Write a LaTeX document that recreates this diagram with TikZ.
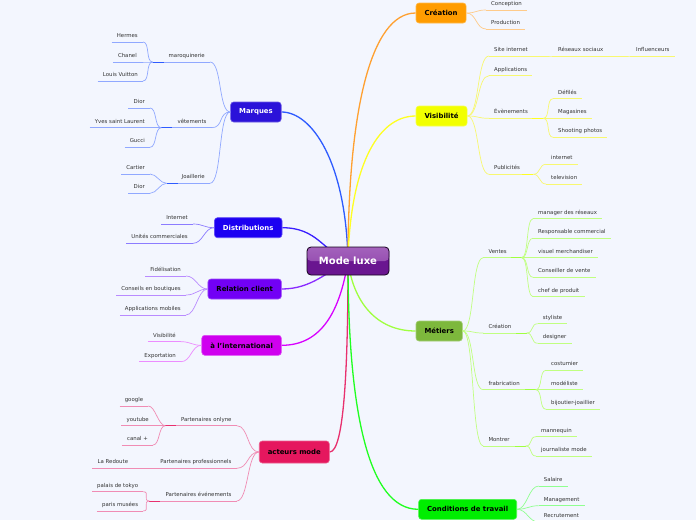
\documentclass[tikz,border=0pt]{standalone}
\usepackage{fontspec}
\setmainfont{DejaVu Sans}
\usetikzlibrary{backgrounds}

\definecolor{bg}{HTML}{F3F6FE}
\definecolor{txt}{HTML}{333333}
% topic boxes
\definecolor{cMarq}{HTML}{2B12D9}
\definecolor{cDist}{HTML}{1C00F2}
\definecolor{cRel}{HTML}{7200F5}
\definecolor{cIntl}{HTML}{CF00EF}
\definecolor{cAct}{HTML}{E5175E}
\definecolor{cCrea}{HTML}{FF9C00}
\definecolor{cVis}{HTML}{F2FF00}
\definecolor{cMet}{HTML}{7DB83C}
\definecolor{cCond}{HTML}{00EE00}
% main edges
\definecolor{eMarq}{HTML}{2E5BFF}
\definecolor{eDist}{HTML}{3A1FFF}
\definecolor{eRel}{HTML}{8A2BFF}
\definecolor{eIntl}{HTML}{D800FF}
\definecolor{eAct}{HTML}{E8306E}
\definecolor{eCrea}{HTML}{FFA030}
\definecolor{eVis}{HTML}{FFFF22}
\definecolor{eMet}{HTML}{A0FF40}
\definecolor{eCond}{HTML}{20FF20}
% sub lines
\definecolor{mqL}{HTML}{90A8FF}
\definecolor{diL}{HTML}{8C7CFF}
\definecolor{rcL}{HTML}{B98BFF}
\definecolor{inL}{HTML}{EC8CFF}
\definecolor{acL}{HTML}{F08CB4}
\definecolor{crL}{HTML}{FFCB8A}
\definecolor{viL}{HTML}{F8F870}
\definecolor{meL}{HTML}{C0FF80}
\definecolor{coL}{HTML}{90FF90}
% center
\definecolor{pDark}{HTML}{6A1690}
\definecolor{pTop}{HTML}{A462BC}
\definecolor{pMid}{HTML}{8A3FA8}

\tikzset{
  topic/.style={rectangle, rounded corners=3pt, fill=#1, draw=#1!70!white,
    line width=.6pt, minimum height=20pt, inner xsep=8.5pt,
    font=\bfseries\fontsize{6.9}{8}\selectfont},
  hub/.style={rectangle, rounded corners=4pt, fill=pDark, draw=black!80!pDark,
    line width=.8pt, minimum width=82pt, minimum height=28pt, text=white,
    font=\bfseries\fontsize{10}{12}\selectfont,
    path picture={\fill[top color=pTop, bottom color=pMid]
      (path picture bounding box.north west) rectangle (path picture bounding box.east);}},
  sub/.style={inner xsep=5pt, inner ysep=3pt, text height=4.2pt, text depth=1.2pt,
    text=txt, font=\fontsize{5.4}{6.5}\selectfont,
    append after command={(\tikzlastnode.south west) edge[draw=#1, line width=.7pt] (\tikzlastnode.south east)}},
  lsub/.style={anchor=south east, align=right, sub=#1},
  rsub/.style={anchor=south west, align=left, sub=#1},
  % stronger bit of line where the children join
  jl/.style={append after command={(\tikzlastnode.south west) edge[draw=#1, line width=.9pt] ([xshift=11pt]\tikzlastnode.south west)}},
  jr/.style={append after command={(\tikzlastnode.south east) edge[draw=#1, line width=.9pt] ([xshift=-11pt]\tikzlastnode.south east)}},
  link/.style={draw=#1, line width=.7pt},
  medge/.style={draw=#1, line width=1.3pt},
  hcurve/.style={to path={.. controls +(#1,0) and +(-#1,0) .. (\tikztotarget) \tikztonodes}},
}

\begin{document}
\begin{tikzpicture}[x=1pt, y=-1pt]
\begin{scope}[on background layer]
\fill[bg] (0,0) rectangle (696,520);
\end{scope}
\useasboundingbox (0,0) rectangle (696,520);

% centre and topics
\node[hub] (cent) at (348,261) {Mode luxe};
\node[topic=cMarq, text=white, anchor=east] (marq) at (281.5,112) {Marques};
\node[topic=cDist, text=white, anchor=east] (dist) at (282.3,227.7) {Distributions};
\node[topic=cRel, anchor=east] (rel) at (281.7,289) {Relation client};
\node[topic=cIntl, anchor=east] (intl) at (281.7,345.3) {à l'international};
\node[topic=cAct, minimum height=22pt] (act) at (294.3,452) {acteurs mode};
\node[topic=cCrea, anchor=west] (crea) at (415.7,13) {Création};
\node[topic=cVis, anchor=west] (vis) at (415.7,116) {Visibilité};
\node[topic=cMet, anchor=west] (met) at (415.7,331) {Métiers};
\node[topic=cCond, anchor=west] (cond) at (418.3,509.3) {Conditions de travail};

\begin{scope}[on background layer]
\draw[medge=eMarq] (marq.east) .. controls +(30,0) and +(-2,-100) .. (cent.center);
\draw[medge=eDist] (dist.east) .. controls +(35,0) and +(-25,-10) .. (cent.center);
\draw[medge=eRel] (rel.east) .. controls +(30,0) and +(-20,10) .. (cent.center);
\draw[medge=eIntl] (intl.east) .. controls +(40,0) and +(-8,50) .. (cent.center);
\draw[medge=eAct] (act.east) .. controls +(15,0) and +(0,100) .. (cent.center);
\draw[medge=eCrea] (crea.west) .. controls +(-45,0) and +(0,-150) .. (cent.center);
\draw[medge=eVis] (vis.west) .. controls +(-40,0) and +(2,-90) .. (cent.center);
\draw[medge=eMet] (met.west) .. controls +(-40,0) and +(5,40) .. (cent.center);
\draw[medge=eCond] (cond.west) .. controls +(-50,0) and +(0,150) .. (cent.center);
\end{scope}

% Marques
\node[lsub=mqL, jl=eMarq, text width=47pt] (maroq) at (210,62) {maroquinerie};
\node[lsub=mqL] (hermes) at (143,42) {Hermes};
\node[lsub=mqL] (chanel) at (142,62) {Chanel};
\node[lsub=mqL] (lv) at (143,81) {Louis Vuitton};
\node[lsub=mqL, jl=eMarq, text width=40pt] (vet) at (211.7,127.7) {vêtements};
\node[lsub=mqL] (dior) at (150,108) {Dior};
\node[lsub=mqL] (ysl) at (150,127.7) {Yves saint Laurent};
\node[lsub=mqL] (gucci) at (150,147.3) {Gucci};
\node[lsub=mqL, jl=eMarq, text width=33pt] (joa) at (210,183.3) {Joaillerie};
\node[lsub=mqL] (cartier) at (150,174) {Cartier};
\node[lsub=mqL] (dior2) at (150,193.3) {Dior};
\draw[link=mqL, hcurve=-12] (marq.west) to (maroq.south east);
\draw[link=mqL, hcurve=-12] (marq.west) to (vet.south east);
\draw[link=mqL, hcurve=-12] (marq.west) to (joa.south east);
\draw[link=mqL, hcurve=-7] (maroq.south west) to (hermes.south east);
\draw[link=mqL, hcurve=-7] (maroq.south west) to (chanel.south east);
\draw[link=mqL, hcurve=-7] (maroq.south west) to (lv.south east);
\draw[link=mqL, hcurve=-7] (vet.south west) to (dior.south east);
\draw[link=mqL, hcurve=-7] (vet.south west) to (ysl.south east);
\draw[link=mqL, hcurve=-7] (vet.south west) to (gucci.south east);
\draw[link=mqL, hcurve=-7] (joa.south west) to (cartier.south east);
\draw[link=mqL, hcurve=-7] (joa.south west) to (dior2.south east);

% Distributions
\node[lsub=diL] (inet) at (193,224) {Internet};
\node[lsub=diL] (unites) at (193,243.3) {Unités commerciales};
\draw[link=diL, hcurve=-10] (dist.west) to (inet.south east);
\draw[link=diL, hcurve=-10] (dist.west) to (unites.south east);

% Relation client
\node[lsub=rcL] (fidel) at (186,276) {Fidélisation};
\node[lsub=rcL] (conseil) at (186,295) {Conseils en boutiques};
\node[lsub=rcL] (appmob) at (186,315) {Applications mobiles};
\draw[link=rcL, hcurve=-10] (rel.west) to (fidel.south east);
\draw[link=rcL, hcurve=-10] (rel.west) to (conseil.south east);
\draw[link=rcL, hcurve=-10] (rel.west) to (appmob.south east);

% a l'international
\node[lsub=inL] (visi) at (181,341.7) {Visibilité};
\node[lsub=inL] (export) at (181,361.7) {Exportation};
\draw[link=inL, hcurve=-10] (intl.west) to (visi.south east);
\draw[link=inL, hcurve=-10] (intl.west) to (export.south east);

% acteurs mode
\node[lsub=acL, jl=eAct, text width=61pt] (ponl) at (236.7,425.7) {Partenaires onlyne};
\node[lsub=acL] (google) at (148.3,406) {google};
\node[lsub=acL] (youtube) at (154,425.7) {youtube};
\node[lsub=acL] (canal) at (153,445) {canal +};
\node[lsub=acL] (ppro) at (236.7,468.3) {Partenaires professionnels};
\node[lsub=acL] (redoute) at (133.3,468.3) {La Redoute};
\node[lsub=acL, jl=eAct, text width=77pt] (pevt) at (236.7,501) {Partenaires événements};
\node[lsub=acL] (palais) at (143.3,491.7) {palais de tokyo};
\node[lsub=acL] (paris) at (143.3,511) {paris musées};
\draw[link=acL, hcurve=-12] (act.west) to (ponl.south east);
\draw[link=acL, hcurve=-12] (act.west) to (ppro.south east);
\draw[link=acL, hcurve=-12] (act.west) to (pevt.south east);
\draw[link=acL, hcurve=-7] (ponl.south west) to (google.south east);
\draw[link=acL, hcurve=-7] (ponl.south west) to (youtube.south east);
\draw[link=acL, hcurve=-7] (ponl.south west) to (canal.south east);
\draw[link=acL, hcurve=-7] (ppro.south west) to (redoute.south east);
\draw[link=acL, hcurve=-7] (pevt.south west) to (palais.south east);
\draw[link=acL, hcurve=-7] (pevt.south west) to (paris.south east);

% Creation
\node[rsub=crL] (concep) at (486,10) {Conception};
\node[rsub=crL] (prod) at (486,29) {Production};
\draw[link=crL, hcurve=10] (crea.east) to (concep.south west);
\draw[link=crL, hcurve=10] (crea.east) to (prod.south west);

% Visibilite
\node[rsub=viL, text width=49pt] (site) at (489,56) {Site internet};
\node[rsub=viL, text width=64pt] (reseaux) at (553,56) {Réseaux sociaux};
\node[rsub=viL] (influ) at (631,56) {Influenceurs};
\node[rsub=viL] (appli) at (489,75.7) {Applications};
\node[rsub=viL, jr=eVis, text width=44pt] (evts) at (489,118.3) {Évènements};
\node[rsub=viL] (defiles) at (553,98.7) {Défilés};
\node[rsub=viL] (magas) at (553,118.3) {Magasines};
\node[rsub=viL] (shoot) at (553,137.3) {Shooting photos};
\node[rsub=viL, jr=eVis, text width=34pt] (pub) at (489,174.3) {Publicités};
\node[rsub=viL] (inet2) at (546,164.3) {internet};
\node[rsub=viL] (tele) at (546,184) {television};
\draw[link=viL, hcurve=12] (vis.east) to (site.south west);
\draw[link=viL, hcurve=12] (vis.east) to (appli.south west);
\draw[link=viL, hcurve=12] (vis.east) to (evts.south west);
\draw[link=viL, hcurve=12] (vis.east) to (pub.south west);
\draw[link=viL, hcurve=4] (site.south east) to (reseaux.south west);
\draw[link=viL, hcurve=4] (reseaux.south east) to (influ.south west);
\draw[link=viL, hcurve=7] (evts.south east) to (defiles.south west);
\draw[link=viL, hcurve=7] (evts.south east) to (magas.south west);
\draw[link=viL, hcurve=7] (evts.south east) to (shoot.south west);
\draw[link=viL, hcurve=7] (pub.south east) to (inet2.south west);
\draw[link=viL, hcurve=7] (pub.south east) to (tele.south west);

% Metiers
\node[rsub=meL, jr=eMet, text width=28pt] (ventes) at (483.3,257.7) {Ventes};
\node[rsub=meL] (mgr) at (533,218.7) {manager des réseaux};
\node[rsub=meL] (resp) at (533,238.3) {Responsable commercial};
\node[rsub=meL] (visuel) at (533,257.7) {visuel merchandiser};
\node[rsub=meL] (convte) at (533,277.3) {Conseiller de vente};
\node[rsub=meL] (chef) at (533,296.7) {chef de produit};
\node[rsub=meL, jr=eMet, text width=33pt] (creat) at (483.3,333) {Création};
\node[rsub=meL] (styl) at (537.7,323.7) {styliste};
\node[rsub=meL] (design) at (537.7,343.3) {designer};
\node[rsub=meL, jr=eMet, text width=42pt] (fab) at (483.3,389.7) {frabrication};
\node[rsub=meL] (costu) at (546,370.3) {costumier};
\node[rsub=meL] (model) at (546,389.7) {modéliste};
\node[rsub=meL] (bijou) at (546,409.3) {bijoutier-joaillier};
\node[rsub=meL, jr=eMet, text width=32pt] (montr) at (483.3,446) {Montrer};
\node[rsub=meL] (manne) at (536,436.7) {mannequin};
\node[rsub=meL] (journ) at (536,456) {journaliste mode};
\draw[link=meL, hcurve=12] (met.east) to (ventes.south west);
\draw[link=meL, hcurve=12] (met.east) to (creat.south west);
\draw[link=meL, hcurve=12] (met.east) to (fab.south west);
\draw[link=meL, hcurve=12] (met.east) to (montr.south west);
\draw[link=meL, hcurve=7] (ventes.south east) to (mgr.south west);
\draw[link=meL, hcurve=7] (ventes.south east) to (resp.south west);
\draw[link=meL, hcurve=7] (ventes.south east) to (visuel.south west);
\draw[link=meL, hcurve=7] (ventes.south east) to (convte.south west);
\draw[link=meL, hcurve=7] (ventes.south east) to (chef.south west);
\draw[link=meL, hcurve=7] (creat.south east) to (styl.south west);
\draw[link=meL, hcurve=7] (creat.south east) to (design.south west);
\draw[link=meL, hcurve=7] (fab.south east) to (costu.south west);
\draw[link=meL, hcurve=7] (fab.south east) to (model.south west);
\draw[link=meL, hcurve=7] (fab.south east) to (bijou.south west);
\draw[link=meL, hcurve=7] (montr.south east) to (manne.south west);
\draw[link=meL, hcurve=7] (montr.south east) to (journ.south west);

% Conditions de travail
\node[rsub=coL] (salaire) at (538.7,486) {Salaire};
\node[rsub=coL] (manag) at (538.7,505.7) {Management};
\node[rsub=coL] (recru) at (538.7,522) {Recrutement};
\draw[link=coL, hcurve=10] (cond.east) to (salaire.south west);
\draw[link=coL, hcurve=10] (cond.east) to (manag.south west);
\draw[link=coL, hcurve=10] (cond.east) to (recru.south west);
\end{tikzpicture}
\end{document}
